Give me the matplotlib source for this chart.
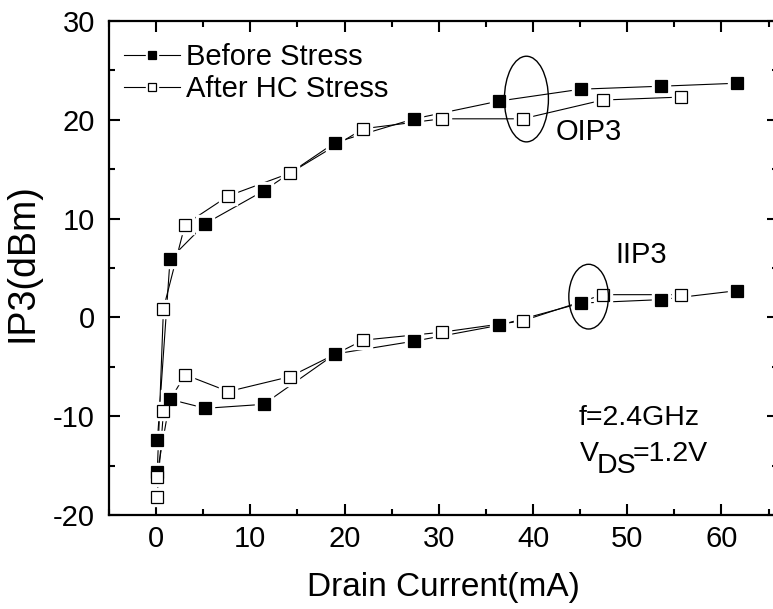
import matplotlib
matplotlib.use("Agg")
import matplotlib.pyplot as plt
from matplotlib.patches import Ellipse
from matplotlib.legend_handler import HandlerTuple
from matplotlib.ticker import MultipleLocator

plt.rcParams['font.family'] = ['Liberation Sans', 'DejaVu Sans']
plt.rcParams['axes.unicode_minus'] = False

# ---- data ----
x_before = [0.14, 1.48, 5.23, 11.4, 19.0, 27.4, 36.4, 45.1, 53.6, 61.6]
oip3_before = [-12.4, 5.9, 9.5, 12.8, 17.7, 20.1, 21.9, 23.1, 23.4, 23.7]
iip3_before = [-15.6, -8.3, -9.2, -8.8, -3.7, -2.4, -0.8, 1.45, 1.8, 2.7]

x_after = [0.1, 0.78, 3.07, 7.67, 14.2, 22.0, 30.3, 38.9, 47.4, 55.7]
oip3_after = [-16.2, 0.9, 9.4, 12.3, 14.6, 19.1, 20.1, 20.1, 22.0, 22.3]
iip3_after = [-18.2, -9.5, -5.8, -7.5, -6.0, -2.3, -1.5, -0.35, 2.3, 2.3]

fig = plt.figure(figsize=(7.73, 6.09), dpi=100)
ax = fig.add_axes([109 / 773, 94 / 609, 669 / 773, 494 / 609])

ms = 8.6
halo = 12.5


def draw(x, y, face):
    ln, = ax.plot(x, y, color="black", lw=0.8, zorder=1)
    hl, = ax.plot(x, y, ls="none", marker="s", ms=halo, mfc="white", mec="white", zorder=2)
    mk, = ax.plot(x, y, ls="none", marker="s", ms=ms, mfc=face, mec="black", mew=0.9, zorder=3)
    return (ln, hl, mk)


h_before = draw(x_before, oip3_before, "black")
draw(x_before, iip3_before, "black")
h_after = draw(x_after, oip3_after, "white")
draw(x_after, iip3_after, "white")

ax.add_patch(Ellipse((39.3, 22.1), 4.67, 8.67, fill=False, ec="black", lw=1.0, zorder=4))
ax.add_patch(Ellipse((45.9, 2.1), 4.2, 6.55, fill=False, ec="black", lw=1.0, zorder=4))

ax.text(42.4, 18.8, "OIP3", fontsize=21, va="center", ha="left")
ax.text(48.7, 6.3, "IIP3", fontsize=21, va="center", ha="left")
ax.text(44.8, -10.2, "f=2.4GHz", fontsize=20.5, va="center", ha="left")
ax.text(44.95, -13.8, "V", fontsize=20.5, va="center", ha="left")
ax.text(46.75, -15.0, "DS", fontsize=20.5, va="center", ha="left")
ax.text(50.6, -13.8, "=1.2V", fontsize=20.5, va="center", ha="left")

ax.set_xlim(-5, 66)
ax.set_ylim(-20, 30)
ax.xaxis.set_major_locator(MultipleLocator(10))
ax.xaxis.set_minor_locator(MultipleLocator(5))
ax.yaxis.set_major_locator(MultipleLocator(10))
ax.yaxis.set_minor_locator(MultipleLocator(5))
ax.tick_params(which="both", direction="in", top=True, right=True, width=1.5, labelsize=21)
ax.tick_params(which="major", length=8)
ax.tick_params(which="minor", length=4)
ax.tick_params(axis="y", pad=10)
ax.tick_params(axis="x", pad=7)
for s in ax.spines.values():
    s.set_linewidth(1.6)

ax.set_xlabel("Drain Current(mA)", fontsize=24, labelpad=14)
fig.text(23 / 773, 1 - 263 / 609, "IP3(dBm)", fontsize=27, rotation=90, ha="center", va="center")

leg = ax.legend([h_before, h_after], ["Before Stress", "After HC Stress"],
                handler_map={tuple: HandlerTuple(ndivide=1, pad=0)},
                loc="upper left", bbox_to_anchor=(-0.003, 0.99), frameon=False,
                fontsize=21, handlelength=1.9, handletextpad=0.2, labelspacing=0.12,
                borderaxespad=0.2, markerscale=0.7)

fig.savefig("out.png", dpi=100)
